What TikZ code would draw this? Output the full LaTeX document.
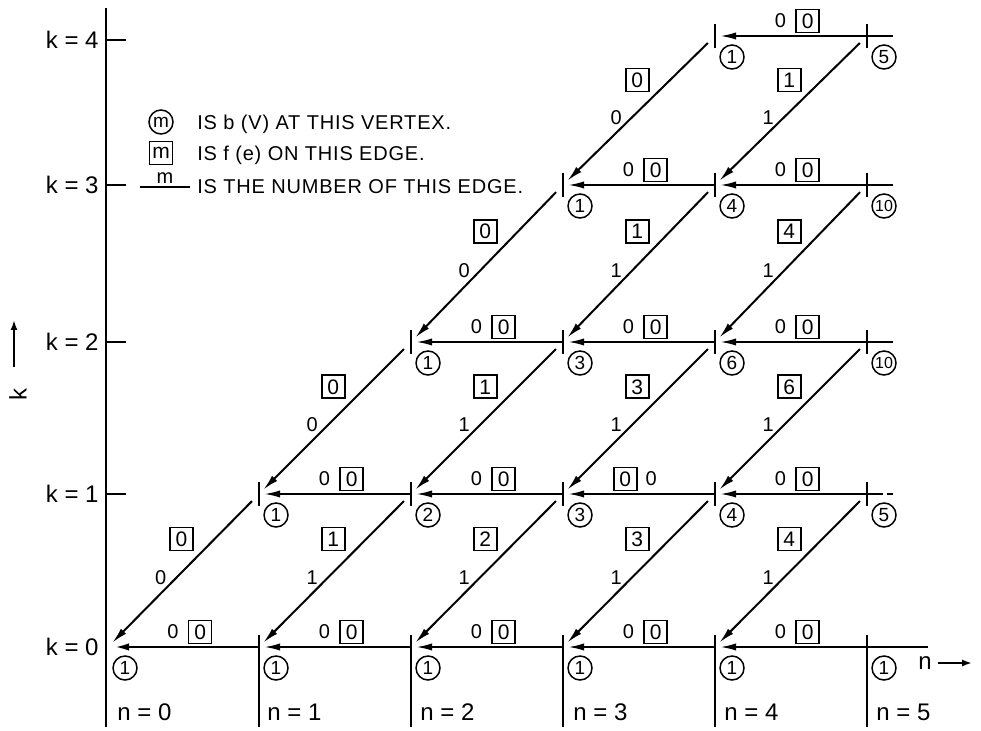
\documentclass[tikz,border=0pt]{standalone}
\usepackage{fontspec}
\setmainfont{Liberation Sans}
\newfontfamily\notefont[LetterSpace=4]{Liberation Sans}
\usetikzlibrary{arrows.meta,positioning}
\tikzset{
  vtx/.style={circle, draw, line width=0.75pt, minimum size=12pt, inner sep=0pt,
    font=\fontsize{9.5}{10}\selectfont},
  fval/.style={draw, line width=0.85pt, minimum width=11.5pt, minimum height=11.5pt,
    inner sep=0pt, font=\fontsize{10.5}{11}\selectfont},
  enum/.style={inner sep=0pt, font=\fontsize{10}{10}\selectfont},
  hedge/.style={-{Latex[length=8pt,width=3.6pt]}, line width=1pt, shorten >=2.5pt},
  dedge/.style={hedge, shorten <=5pt, shorten >=3pt},
  hlab/.style={yshift=7.5pt},
  dbox/.style={xshift=-16.5pt},
  dnum/.style={xshift=-8pt},
  vtick/.style={line width=0.85pt},
  ptr/.style={-{Latex[length=5pt,width=3.5pt]}, line width=1pt},
  axlabel/.style={inner sep=0pt, font=\fontsize{12}{12}\selectfont},
  note/.style={anchor=west, inner sep=0pt, font=\notefont\fontsize{10}{10}\selectfont}
}

\begin{document}
\begin{tikzpicture}[x=0.5pt, y=-0.5pt]
  \useasboundingbox (0,0) rectangle (981,731);

  % vertices (n,k)
  \coordinate (v00) at (108,647); \coordinate (v10) at (259,647);
  \coordinate (v20) at (411,647); \coordinate (v30) at (563,647);
  \coordinate (v40) at (715,647); \coordinate (v50) at (867,647);
  \coordinate (v11) at (259,494); \coordinate (v21) at (411,494);
  \coordinate (v31) at (563,494); \coordinate (v41) at (715,494);
  \coordinate (v51) at (867,494);
  \coordinate (v22) at (411,342); \coordinate (v32) at (563,342);
  \coordinate (v42) at (715,342); \coordinate (v52) at (867,342);
  \coordinate (v33) at (563,185); \coordinate (v43) at (715,185);
  \coordinate (v53) at (867,185);
  \coordinate (v44) at (715,36);  \coordinate (v54) at (867,36);
  \coordinate (bot) at (0,727);

  % axis
  \coordinate (atop) at (106,8);
  \coordinate (abot) at (106,727);
  \draw[vtick, line width=1pt] (atop) -- (abot);
  \draw[vtick] (106,494) -- ++(20,0);
  \draw[vtick] (106,342) -- ++(20,0);
  \draw[vtick] (106,185) -- ++(20,0);
  \draw[vtick] (106,40) -- ++(20,0);
  \node[axlabel, anchor=east] at (99,647) {k = 0};
  \node[axlabel, anchor=east] at (99,494) {k = 1};
  \node[axlabel, anchor=east] at (99,342) {k = 2};
  \node[axlabel, anchor=east] at (99,185) {k = 3};
  \node[axlabel, anchor=east] at (99,40) {k = 4};
  \node[axlabel, rotate=90] (ksym) at (18,395) {k};
  \coordinate (kfoot) at (14,367);
  \coordinate (khead) at (14,320);
  \draw[ptr] (kfoot) -- (khead);

  % column lines and n labels
  \draw[vtick] (v10) ++(0,-12) -- (v10 |- bot);
  \draw[vtick] (v20) ++(0,-12) -- (v20 |- bot);
  \draw[vtick] (v30) ++(0,-12) -- (v30 |- bot);
  \draw[vtick] (v40) ++(0,-12) -- (v40 |- bot);
  \draw[vtick] (v50) ++(0,-12) -- (v50 |- bot);
  \node[axlabel, anchor=west] at (117,712) {n = 0};
  \node[axlabel, anchor=west] at (267,712) {n = 1};
  \node[axlabel, anchor=west] at (420,712) {n = 2};
  \node[axlabel, anchor=west] at (573,712) {n = 3};
  \node[axlabel, anchor=west] at (724,712) {n = 4};
  \node[axlabel, anchor=west] at (876,712) {n = 5};
  \draw[vtick] (v50) -- ++(61,0);
  \node[axlabel] (nsym) at (925,663) {n};
  \draw[ptr] ([xshift=3pt]nsym.east) -- ++(34,0);

  % vertex ticks
  \draw[vtick] (v11) ++(0,-12) -- ++(0,24);
  \draw[vtick] (v21) ++(0,-12) -- ++(0,24);
  \draw[vtick] (v31) ++(0,-12) -- ++(0,24);
  \draw[vtick] (v41) ++(0,-12) -- ++(0,24);
  \draw[vtick] (v51) ++(0,-12) -- ++(0,24);
  \draw[vtick] (v22) ++(0,-12) -- ++(0,24);
  \draw[vtick] (v32) ++(0,-12) -- ++(0,24);
  \draw[vtick] (v42) ++(0,-12) -- ++(0,24);
  \draw[vtick] (v52) ++(0,-12) -- ++(0,24);
  \draw[vtick] (v33) ++(0,-12) -- ++(0,24);
  \draw[vtick] (v43) ++(0,-12) -- ++(0,24);
  \draw[vtick] (v53) ++(0,-12) -- ++(0,24);
  \draw[vtick] (v44) ++(0,-12) -- ++(0,24);
  \draw[vtick] (v54) ++(0,-12) -- ++(0,24);
  \draw[vtick] (v51) -- ++(10,0);
  \draw[vtick, densely dashed] (v51) ++(10,0) -- ++(18,0);
  \draw[vtick] (v52) -- ++(26,0);
  \draw[vtick] (v53) -- ++(26,0);
  \draw[vtick] (v54) -- ++(26,0);

  % horizontal edges
  \draw[hedge, line width=1.4pt] (v10) -- node[enum, hlab, pos=0.57] {0} node[fval, hlab, pos=0.39] {0} (v00);
  \draw[hedge] (v20) -- node[enum, hlab, pos=0.57] {0} node[fval, hlab, pos=0.39] {0} (v10);
  \draw[hedge] (v30) -- node[enum, hlab, pos=0.57] {0} node[fval, hlab, pos=0.39] {0} (v20);
  \draw[hedge] (v40) -- node[enum, hlab, pos=0.57] {0} node[fval, hlab, pos=0.39] {0} (v30);
  \draw[hedge] (v50) -- node[enum, hlab, pos=0.57] {0} node[fval, hlab, pos=0.39] {0} (v40);
  \draw[hedge] (v21) -- node[enum, hlab, pos=0.57] {0} node[fval, hlab, pos=0.39] {0} (v11);
  \draw[hedge] (v31) -- node[enum, hlab, pos=0.57] {0} node[fval, hlab, pos=0.39] {0} (v21);
  \draw[hedge] (v41) -- node[enum, hlab, pos=0.42] {0} node[fval, hlab, pos=0.59] {0} (v31);
  \draw[hedge] (v51) -- node[enum, hlab, pos=0.57] {0} node[fval, hlab, pos=0.39] {0} (v41);
  \draw[hedge] (v32) -- node[enum, hlab, pos=0.57] {0} node[fval, hlab, pos=0.39] {0} (v22);
  \draw[hedge] (v42) -- node[enum, hlab, pos=0.57] {0} node[fval, hlab, pos=0.39] {0} (v32);
  \draw[hedge] (v52) -- node[enum, hlab, pos=0.57] {0} node[fval, hlab, pos=0.39] {0} (v42);
  \draw[hedge] (v43) -- node[enum, hlab, pos=0.57] {0} node[fval, hlab, pos=0.39] {0} (v33);
  \draw[hedge] (v53) -- node[enum, hlab, pos=0.57] {0} node[fval, hlab, pos=0.39] {0} (v43);
  \draw[hedge] (v54) -- node[enum, hlab, pos=0.57] {0} node[fval, hlab, pos=0.39] {0} (v44);

  % diagonal edges
  \draw[dedge] (v11) -- node[fval, dbox, pos=0.295] {0} node[enum, dnum, pos=0.545] {0} (v00);
  \draw[dedge] (v21) -- node[fval, dbox, pos=0.295] {1} node[enum, dnum, pos=0.545] {1} (v10);
  \draw[dedge] (v31) -- node[fval, dbox, pos=0.295] {2} node[enum, dnum, pos=0.545] {1} (v20);
  \draw[dedge] (v41) -- node[fval, dbox, pos=0.295] {3} node[enum, dnum, pos=0.545] {1} (v30);
  \draw[dedge] (v51) -- node[fval, dbox, pos=0.295] {4} node[enum, dnum, pos=0.545] {1} (v40);
  \draw[dedge] (v22) -- node[fval, dbox, pos=0.295] {0} node[enum, dnum, pos=0.545] {0} (v11);
  \draw[dedge] (v32) -- node[fval, dbox, pos=0.295] {1} node[enum, dnum, pos=0.545] {1} (v21);
  \draw[dedge] (v42) -- node[fval, dbox, pos=0.295] {3} node[enum, dnum, pos=0.545] {1} (v31);
  \draw[dedge] (v52) -- node[fval, dbox, pos=0.295] {6} node[enum, dnum, pos=0.545] {1} (v41);
  \draw[dedge] (v33) -- node[fval, dbox, pos=0.295] {0} node[enum, dnum, pos=0.545] {0} (v22);
  \draw[dedge] (v43) -- node[fval, dbox, pos=0.295] {1} node[enum, dnum, pos=0.545] {1} (v32);
  \draw[dedge] (v53) -- node[fval, dbox, pos=0.295] {4} node[enum, dnum, pos=0.545] {1} (v42);
  \draw[dedge] (v44) -- node[fval, dbox, pos=0.295] {0} node[enum, dnum, pos=0.545] {0} (v33);
  \draw[dedge] (v54) -- node[fval, dbox, pos=0.295] {1} node[enum, dnum, pos=0.545] {1} (v43);

  % b(V) at the vertices
  \node[vtx, below right=6pt and 4pt of v00] {1};
  \node[vtx, below right=6pt and 4pt of v10] {1};
  \node[vtx, below right=6pt and 4pt of v20] {1};
  \node[vtx, below right=6pt and 4pt of v30] {1};
  \node[vtx, below right=6pt and 4pt of v40] {1};
  \node[vtx, below right=6pt and 4pt of v50] {1};
  \node[vtx, below right=6pt and 4pt of v11] {1};
  \node[vtx, below right=6pt and 4pt of v21] {2};
  \node[vtx, below right=6pt and 4pt of v31] {3};
  \node[vtx, below right=6pt and 4pt of v41] {4};
  \node[vtx, below right=6pt and 4pt of v51] {5};
  \node[vtx, below right=6pt and 4pt of v22] {1};
  \node[vtx, below right=6pt and 4pt of v32] {3};
  \node[vtx, below right=6pt and 4pt of v42] {6};
  \node[vtx, below right=6pt and 4pt of v52, font=\fontsize{8}{8}\selectfont] {10};
  \node[vtx, below right=6pt and 4pt of v33] {1};
  \node[vtx, below right=6pt and 4pt of v43] {4};
  \node[vtx, below right=6pt and 4pt of v53, font=\fontsize{8}{8}\selectfont] {10};
  \node[vtx, below right=6pt and 4pt of v44] {1};
  \node[vtx, below right=6pt and 4pt of v54] {5};

  % legend
  \node[vtx] (lgv) at (161,122) {m};
  \node[note] at (197,124) {IS b (V) AT THIS VERTEX.};
  \node[fval] (lgf) at (161,153) {m};
  \node[note] at (197,155) {IS f (e) ON THIS EDGE.};
  \coordinate (lga) at (140,187);
  \coordinate (lgb) at (190,187);
  \draw[vtick] (lga) -- node[enum, above=1.5pt] {m} (lgb);
  \node[note] at (197,187) {IS THE NUMBER OF THIS EDGE.};
\end{tikzpicture}
\end{document}
